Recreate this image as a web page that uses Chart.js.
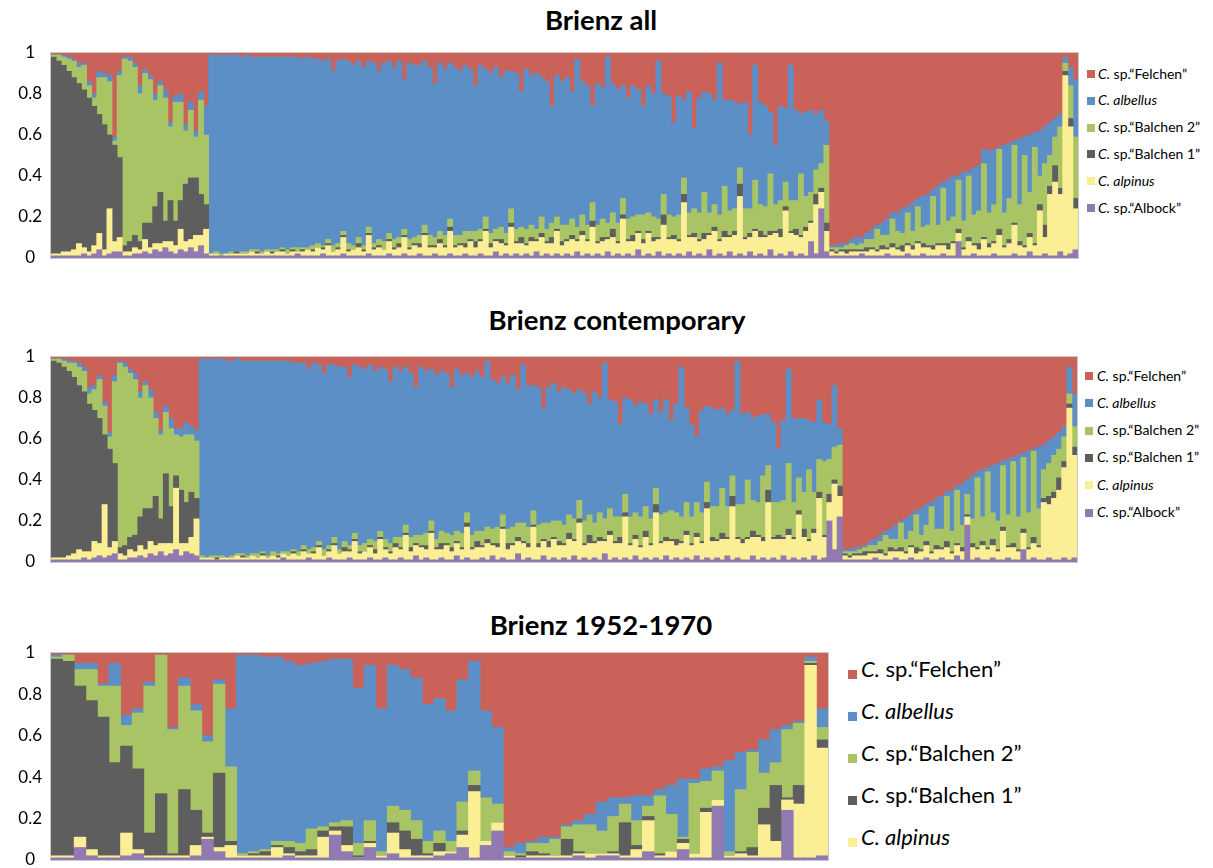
<!DOCTYPE html>
<html>
<head>
<meta charset="utf-8">
<title>Brienz admixture proportions</title>
<script src="https://cdn.jsdelivr.net/npm/chart.js@4.4.1/dist/chart.umd.min.js"></script>
<style>
  html, body { margin: 0; padding: 0; background: #ffffff; }
  body { position: relative; width: 1213px; height: 868px; overflow: hidden;
         font-family: Lato, "Open Sans", "Liberation Sans", sans-serif; color: #000; }
  .title { position: absolute; font-weight: 700; font-size: 27.5px; line-height: 32px;
           white-space: nowrap; transform: translateX(-50%); }
  canvas { position: absolute; left: 0; }
  .legend { position: absolute; }
  .legend .item { position: absolute; left: 0; white-space: nowrap; }
  .legend .swatch { position: absolute; left: 0; }
  .legend .text { position: absolute; }
</style>
</head>
<body>

<div class="title" style="left:601px; top:4px;">Brienz all</div>
<canvas id="allChart" width="1080" height="230" style="top:40px; width:1080px; height:230px;"></canvas>
<div class="legend" id="allLegend"></div>

<div class="title" style="left:617px; top:304px;">Brienz contemporary</div>
<canvas id="conChart" width="1080" height="230" style="top:344px; width:1080px; height:230px;"></canvas>
<div class="legend" id="conLegend"></div>

<div class="title" style="left:601px; top:609px;">Brienz 1952-1970</div>
<canvas id="histChart" width="835" height="228" style="top:640px; width:835px; height:228px;"></canvas>
<div class="legend" id="histLegend"></div>

<script>
// Clusters in stacking order, bottom to top.
const seriesNames = ['C. sp.\u201CAlbock\u201D', 'C. alpinus', 'C. sp.\u201CBalchen 1\u201D',
                     'C. sp.\u201CBalchen 2\u201D', 'C. albellus', 'C. sp.\u201CFelchen\u201D'];
const seriesColors = ['#9179B1', '#FBEF95', '#5E5E5E', '#A8C464', '#5B8FC5', '#CB6259'];
const yTickLabels = ['0', '0.2', '0.4', '0.6', '0.8', '1'];

// Brienz all: membership (%) per individual.
const allAlbock = [
  1,1,1,1,1,1,2,1,2,4,1,2,3,3,
  1,1,2,2,3,2,4,3,5,3,2,4,3,5,3,6,2,
  1,1,1,1,1,1,1,1,1,1, 1,1,1,1,1,1,1,2,1,1, 1,1,2,1,1,1,2,1,1,1, 1,2,1,1,1,2,1,1,2,1,
  1,2,1,1,2,1,1,2,1,1, 2,1,1,2,1,1,3,1,2,1, 2,1,2,1,3,1,2,1,2,1, 2,1,3,1,2,1,2,1,3,1,
  2,1,2,1,4,1,2,1,3,1, 2,1,2,1,3,1,2,1,4,1, 2,1,3,1,2,1,3,1,2,1, 4,1,2,1,3,1,2,1,8,2,24,3,
  1,1,1,1,1,1,2,1,1,1, 1,2,1,1,1,2,1,1,2,1, 1,1,2,1,1,8,1,1,2,1, 1,1,2,1,1,1,2,1,1,3, 1,1,2,1,1,3,1,2,4
];
const allAlpinus = [
  1,1,2,2,3,6,3,2,4,8,3,22,5,7,
  2,2,3,2,6,3,3,4,3,5,4,10,5,4,8,5,12,
  1,1,0,1,1,1,1,1,2,1, 1,2,1,2,2,1,2,1,2,3, 2,4,2,5,2,3,8,2,3,4, 2,9,3,4,3,6,3,4,8,3,
  5,3,10,4,3,6,4,11,4,5, 3,7,4,6,12,4,5,6,4,14, 5,6,4,7,5,9,5,6,11,5, 6,8,5,10,6,14,5,7,6,9,
  5,18,6,7,8,6,10,7,6,15, 7,8,6,26,7,9,6,8,7,12, 6,9,7,10,28,8,7,12,8,9, 7,11,8,22,9,10,8,12,9,24,8,10,
  2,1,2,1,2,2,1,2,3,2, 3,2,4,3,2,4,3,6,3,4, 3,5,4,3,6,4,3,7,4,3, 8,4,5,10,4,6,14,5,4,7, 5,22,8,30,36,28,88,62,20
];
const allBalchen1 = [
  96,94,91,88,84,78,77,75,68,58,61,36,47,39,
  3,5,6,4,8,12,18,25,10,20,12,14,28,30,28,20,12,
  0,0,0,0,0,1,0,0,0,1, 0,0,1,0,1,0,1,0,1,0, 1,0,1,1,0,1,1,1,0,2, 1,1,1,1,0,1,1,2,1,1,
  1,2,1,1,1,2,1,2,1,1, 2,1,3,1,1,2,1,2,1,2, 1,3,1,2,1,2,1,3,1,2, 1,2,1,2,1,3,1,2,1,4,
  1,2,1,3,1,2,1,2,1,5, 1,2,1,4,1,2,1,3,1,2, 1,3,1,2,6,1,2,1,3,1, 2,1,4,2,1,3,1,2,1,5,2,4,
  1,1,1,2,1,1,1,2,1,1, 2,1,2,1,3,1,2,1,2,1, 2,1,1,3,1,2,1,2,1,3, 1,2,1,3,1,2,1,2,1,2, 1,3,6,4,8,3,2,4,5
];
const allBalchen2 = [
  1,3,4,6,8,8,12,6,4,18,23,26,2,40,
  91,88,82,72,73,70,52,52,60,36,58,48,26,33,20,46,34,
  0,1,1,0,1,0,1,1,1,1, 1,1,1,1,1,2,1,2,1,1, 2,2,1,2,3,2,2,3,2,3, 2,3,2,3,4,3,4,3,3,4,
  3,4,4,5,4,4,5,4,5,4, 6,4,5,5,6,5,5,6,5,7, 6,5,7,6,5,8,6,7,6,8, 7,8,6,8,7,9,8,9,7,8,
  9,8,10,9,8,12,9,10,9,10, 11,9,12,8,11,12,13,20,10,11, 12,22,12,11,8,14,12,24,13,14, 28,13,14,12,15,14,30,15,14,12,12,38,
  1,2,1,2,3,2,3,4,4,10, 5,6,12,8,6,15,7,17,8,10, 24,9,27,11,12,24,13,30,14,16, 36,15,18,39,16,20,38,18,44,20, 47,14,30,15,14,30,4,16,30
];
const allAlbellus = [
  0,0,1,1,1,2,1,2,2,3,2,3,2,2,
  1,2,2,4,2,2,3,2,4,2,3,4,3,4,3,4,14,
  97,96,97,97,96,96,95,96,94,94, 95,94,94,94,93,94,93,93,92,93, 91,90,90,88,85,89,84,89,88,86, 87,81,88,82,87,84,84,86,73,86,
  84,83,80,82,75,82,81,76,82,80, 81,79,71,80,72,78,79,73,79,67, 76,66,78,73,76,68,72,57,69,70, 72,62,82,65,68,47,69,64,81,63,
  65,55,59,64,61,53,62,60,77,49, 58,46,58,38,59,39,56,49,58,51, 74,42,54,52,31,52,36,56,50,49, 30,29,46,36,66,44,29,41,40,27,26,12,
  1,1,2,1,2,4,3,3,5,2, 6,8,3,9,12,3,14,4,15,15, 3,19,3,20,20,2,24,2,23,22, 7,30,27,1,33,27,2,32,9,28, 7,22,18,16,9,6,3,9,28
];
const allFelchen = [
  1,1,1,2,3,5,5,14,20,9,10,11,41,9,
  2,2,5,16,8,11,20,14,18,34,21,20,35,24,38,19,26,
  1,1,1,1,1,1,2,1,2,2, 2,2,2,2,2,2,2,2,3,2, 3,3,4,3,9,4,3,4,6,4, 7,4,5,9,5,4,7,4,13,5,
  6,6,4,7,15,5,8,5,7,9, 6,8,16,6,8,10,7,12,9,9, 10,19,8,11,10,12,14,26,11,14, 12,19,3,14,16,26,15,17,2,15,
  18,16,22,16,18,26,16,20,4,20, 21,34,21,23,19,37,22,19,20,23, 5,23,23,24,25,24,40,6,24,26, 29,45,26,27,6,28,30,29,28,30,28,33,
  94,94,93,93,91,90,90,88,86,84, 83,81,78,78,76,75,73,71,70,69, 67,65,63,62,60,60,58,58,56,55, 47,48,47,46,45,44,43,42,41,40, 39,38,36,34,32,30,2,7,13
];

// Brienz contemporary: membership (%) per individual.
const conAlbock = [
  1,1,1,1,1,1,2,1,2,3,2,3,4,
  1,1,2,2,3,2,4,3,5,3,4,6,3,5,4,3,
  1,1,1,1,1,1,1,1,1,1, 1,1,1,1,1,1,2,1,1,1, 1,2,1,1,1,2,1,1,1,2, 1,1,1,2,1,1,2,1,1,2,
  1,1,3,1,2,1,1,2,1,1, 3,1,2,1,1,2,1,3,1,2, 1,1,4,1,2,1,1,3,1,2, 1,2,1,3,1,2,1,2,1,4,
  1,2,1,2,1,3,1,2,1,2, 1,3,1,2,1,2,1,3,1,2, 1,2,1,3,1,2,1,1,3,1, 2,1,2,1,3,1,2,1,2,1, 3,1,2,20,6,22,
  1,1,1,1,1,1,2,1,1,1, 2,1,1,2,1,1,2,1,1,2, 1,1,3,1,18,1,2,1,1,2, 1,1,2,1,1,6,1,2,1,1, 2,1,1,2,1,2
];
const conAlpinus = [
  1,1,1,2,3,5,3,4,8,6,26,4,6,
  3,2,4,3,5,4,6,5,4,6,5,30,6,4,8,18,
  1,1,1,0,1,1,1,2,1,1, 2,1,2,1,2,1,2,2,3,2, 4,2,3,6,2,3,7,3,4,3, 9,3,4,5,3,10,4,3,6,4,
  12,4,5,6,4,13,5,4,7,4, 6,5,15,5,6,5,8,5,6,14, 5,7,6,8,5,16,6,7,6,9, 7,6,10,7,18,6,8,7,9,6,
  12,7,8,20,7,8,6,10,7,22, 8,7,9,6,8,11,7,9,8,24, 9,8,10,8,26,9,8,10,9,11, 8,28,9,10,8,12,9,22,10,9, 11,30,10,9,32,10,
  2,1,2,2,2,3,2,3,2,4, 3,4,3,5,3,4,6,3,5,4, 6,3,5,4,4,6,4,7,5,6, 4,14,5,6,4,8,5,7,6,28, 26,30,34,44,74,50
];
const conBalchen1 = [
  96,95,93,90,86,80,78,72,64,61,34,48,38,
  3,5,6,8,14,20,16,24,12,34,18,6,26,20,22,10,
  0,0,0,1,0,0,0,0,1,0, 0,0,1,0,0,1,0,0,1,0, 1,0,1,1,0,1,1,0,2,1, 1,1,0,1,2,1,1,1,2,1,
  1,2,1,1,2,1,1,3,1,2, 1,1,2,1,3,1,2,1,2,1, 3,1,2,1,2,1,2,1,3,1, 2,1,3,1,2,1,4,1,2,1,
  2,1,3,2,1,2,1,3,1,4, 1,2,1,3,1,2,1,2,1,3, 2,1,3,1,5,1,2,1,3,1, 2,6,1,2,1,3,1,2,4,1, 2,3,1,4,2,5,
  1,1,1,1,2,1,1,2,1,2, 1,2,1,1,3,1,2,1,2,1, 3,1,1,2,1,2,1,2,1,3, 1,2,1,2,1,2,1,3,1,2, 4,3,6,3,2,4
];
const conBalchen2 = [
  1,2,3,4,7,9,10,5,10,19,14,6,40,
  90,87,80,76,58,60,54,38,41,30,38,20,26,33,28,28,
  1,0,1,1,1,0,1,1,1,1, 1,2,1,1,2,1,1,2,1,2, 2,2,2,2,3,2,3,2,3,2, 3,3,4,3,4,3,4,4,3,5,
  4,5,4,5,6,5,4,6,5,6, 5,7,5,6,5,7,6,7,8,6, 7,8,7,9,8,7,9,8,9,8, 10,9,9,10,9,11,10,9,12,10,
  11,12,10,9,13,11,14,12,12,8, 13,12,14,13,12,14,13,15,14,10, 15,16,22,15,10,16,17,28,15,16, 30,12,17,16,18,32,17,16,18,34, 18,16,36,17,16,20,
  1,2,1,2,2,3,3,4,9,4, 5,12,6,7,16,7,8,22,8,9, 22,10,26,11,10,12,34,12,37,13, 14,30,15,40,16,35,17,42,18,14, 16,18,14,12,5,10
];
const conAlbellus = [
  0,0,1,1,1,2,2,3,2,2,2,2,3,
  1,2,2,3,3,2,4,3,2,3,5,3,4,6,4,5,
  96,97,96,96,96,96,95,95,94,95, 94,94,93,95,93,94,93,93,91,92, 89,88,90,86,86,88,84,89,85,82, 82,87,85,85,83,80,83,79,83,81,
  77,80,72,82,79,74,80,78,78,72, 79,77,68,77,78,75,81,73,70,67, 71,74,65,77,69,61,67,56,66,67, 63,67,61,61,54,62,54,64,56,76,
  53,56,45,47,57,52,56,50,51,43, 50,55,44,53,73,46,45,32,50,37, 48,47,39,45,32,70,44,33,40,42, 30,25,39,26,39,46,41,29,36,24, 34,29,19,17,30,8,
  1,1,2,1,1,2,3,3,2,5, 7,1,10,8,2,13,10,2,15,16, 2,20,2,20,7,21,3,23,2,23, 28,2,27,2,30,2,30,1,30,12, 11,9,8,5,13,16
];
const conFelchen = [
  1,1,1,2,2,3,5,15,14,9,22,37,9,
  2,3,6,8,17,12,16,27,36,24,30,35,35,32,34,36,
  1,1,1,1,1,2,2,1,2,2, 2,2,2,2,2,2,2,2,3,3, 3,6,3,4,8,4,4,5,5,10, 4,5,6,4,7,5,6,12,5,7,
  5,8,15,5,7,6,9,7,8,15, 6,9,8,10,7,10,2,11,13,10, 13,9,16,4,14,14,15,25,15,13, 17,15,16,18,16,18,23,17,20,3,
  21,22,33,20,21,24,22,23,28,21, 27,21,31,23,5,25,33,39,26,24, 25,26,25,28,26,2,28,27,30,29, 28,28,32,45,31,6,30,30,30,31, 32,21,32,33,14,35,
  94,94,93,93,92,90,89,87,85,84, 82,80,79,77,75,74,72,71,69,68, 66,65,63,62,60,58,56,55,54,53, 52,51,50,49,48,47,46,45,44,43, 41,39,37,34,5,18
];

// Brienz 1952-1970: membership (%) per individual.
const histAlbock = [
  1,1,6,2,1,1,2,3,1,1, 1,1,2,10,4,1,1,1,1,1, 2,1,1,1,12,4,1,6,1,3, 1,1,1,2,3,6,1,7,14,1,
  1,1,1,1,1,2,1,2,2,1, 1,4,1,1,5,1,1,26,1,1, 1,1,1,24,1,1,2
];
const histAlpinus = [
  1,1,5,3,1,1,11,2,1,1, 1,1,5,1,2,6,1,1,1,5, 1,1,1,10,2,3,0,2,1,10, 4,1,1,2,1,6,32,2,4,1,
  0,1,1,1,1,1,2,1,1,1, 4,15,1,3,3,2,22,3,1,2, 1,16,8,5,26,93,52
];
const histBalchen1 = [
  95,94,73,72,67,45,42,39,11,30, 1,32,17,2,36,2,0,1,2,1, 3,2,3,3,2,9,1,1,0,5, 9,8,1,4,0,2,3,0,0,0,
  1,2,1,0,8,1,0,0,1,16, 2,2,1,0,2,0,2,0,0,1, 4,8,27,1,9,1,4
];
const histBalchen2 = [
  1,3,8,15,15,37,10,27,71,67, 60,50,48,44,43,36,1,1,1,2, 3,4,10,2,2,3,6,10,2,8, 10,9,6,6,5,14,7,21,9,2,
  1,4,5,8,6,13,14,11,17,9, 12,5,28,18,1,34,13,14,2,30, 46,17,11,33,30,1,6
];
const histAlbellus = [
  1,0,3,3,1,11,5,2,2,0, 1,4,3,3,2,28,96,95,93,89, 87,86,80,80,79,78,75,75,69,68, 68,69,66,64,63,59,53,42,37,2,
  5,1,3,1,1,2,5,14,9,3, 12,5,3,14,28,2,6,2,44,18, 1,16,16,2,1,2,9
];
const histFelchen = [
  1,1,5,5,15,5,30,27,14,1, 36,12,25,40,13,27,1,1,2,2, 4,6,5,4,3,3,17,6,27,6, 8,12,25,22,28,13,4,28,36,94,
  92,91,89,89,83,81,78,72,70,70, 69,69,66,64,61,61,56,55,52,48, 47,42,37,35,33,2,27
];

Chart.defaults.font.family = 'Lato, "Open Sans", sans-serif';

// Thin grey frame around the plotting area.
const plotFrame = {
  id: 'plotFrame',
  afterDraw(chart) {
    const a = chart.chartArea;
    const ctx = chart.ctx;
    ctx.save();
    ctx.strokeStyle = '#c9c9c9';
    ctx.lineWidth = 1;
    const l = Math.round(a.left) - 0.5, t = Math.round(a.top) - 0.5;
    const r = Math.round(a.right) + 0.5, b = Math.round(a.bottom) + 0.5;
    ctx.strokeRect(l, t, r - l, b - t);
    ctx.restore();
  }
};

function drawStructurePlot(canvasId, series, padding) {
  const n = series[0].length;
  const individuals = Array.from({ length: n }, (_, i) => i + 1);
  return new Chart(document.getElementById(canvasId), {
    type: 'bar',
    data: {
      labels: individuals,
      datasets: series.map((values, k) => ({
        label: seriesNames[k],
        data: values,
        backgroundColor: seriesColors[k],
        borderWidth: 0,
        inflateAmount: 0.4,
        barPercentage: 1,
        categoryPercentage: 1
      }))
    },
    options: {
      responsive: false,
      animation: false,
      events: [],
      layout: { padding },
      plugins: {
        legend: { display: false },
        tooltip: { enabled: false },
        title: { display: false }
      },
      scales: {
        x: { stacked: true, display: false },
        y: {
          stacked: true,
          min: 0,
          max: 100,
          grid: { display: false, drawTicks: false },
          border: { display: false },
          ticks: {
            stepSize: 20,
            padding: 9,
            crossAlign: 'center',
            color: '#000',
            font: { size: 17 },
            callback: (value, index) => yTickLabels[index]
          },
          afterFit(scale) {
            scale.width = 51;
            scale.paddingTop = 0;
            scale.paddingBottom = 0;
          }
        }
      }
    },
    plugins: [plotFrame]
  });
}

// Legend: "C." always italic, species epithets italic, "sp." names upright.
function buildLegend(id, order, cfg) {
  const el = document.getElementById(id);
  el.style.left = cfg.left + 'px';
  el.style.top = (cfg.firstRow - cfg.lineHeight / 2) + 'px';
  order.forEach((k, row) => {
    const item = document.createElement('div');
    item.className = 'item';
    item.style.top = (row * cfg.step) + 'px';
    item.style.height = cfg.lineHeight + 'px';

    const sw = document.createElement('div');
    sw.className = 'swatch';
    sw.style.width = cfg.box + 'px';
    sw.style.height = cfg.box + 'px';
    sw.style.top = (cfg.lineHeight / 2 - cfg.box / 2 + cfg.drop) + 'px';
    sw.style.background = seriesColors[k];
    item.appendChild(sw);

    const tx = document.createElement('div');
    tx.className = 'text';
    tx.style.left = cfg.textOffset + 'px';
    tx.style.fontSize = cfg.fontSize + 'px';
    tx.style.lineHeight = cfg.lineHeight + 'px';
    const name = seriesNames[k];
    const genus = document.createElement('i');
    genus.textContent = name.slice(0, 2);
    tx.appendChild(genus);
    const rest = name.slice(2);
    if (rest.trim().startsWith('sp.')) {
      tx.appendChild(document.createTextNode(rest));
    } else {
      const sp = document.createElement('i');
      sp.textContent = rest;
      tx.appendChild(sp);
    }
    item.appendChild(tx);
    el.appendChild(item);
  });
}

drawStructurePlot('allChart',
  [allAlbock, allAlpinus, allBalchen1, allBalchen2, allAlbellus, allFelchen],
  { top: 13, bottom: 12, left: 0, right: 2 });
drawStructurePlot('conChart',
  [conAlbock, conAlpinus, conBalchen1, conBalchen2, conAlbellus, conFelchen],
  { top: 13, bottom: 12, left: 0, right: 3 });
drawStructurePlot('histChart',
  [histAlbock, histAlpinus, histBalchen1, histBalchen2, histAlbellus, histFelchen],
  { top: 13, bottom: 8, left: 0, right: 7 });

const fullOrder = [5, 4, 3, 2, 1, 0];
buildLegend('allLegend', fullOrder,
  { left: 1087, firstRow: 73, step: 26.8, fontSize: 14, lineHeight: 17, box: 8, drop: 1, textOffset: 11 });
buildLegend('conLegend', fullOrder,
  { left: 1085, firstRow: 375, step: 27.3, fontSize: 14, lineHeight: 17, box: 8, drop: 1, textOffset: 12 });
buildLegend('histLegend', [5, 4, 3, 2, 1],
  { left: 848, firstRow: 669, step: 42, fontSize: 22, lineHeight: 26, box: 9, drop: 5, textOffset: 13 });
</script>
</body>
</html>
